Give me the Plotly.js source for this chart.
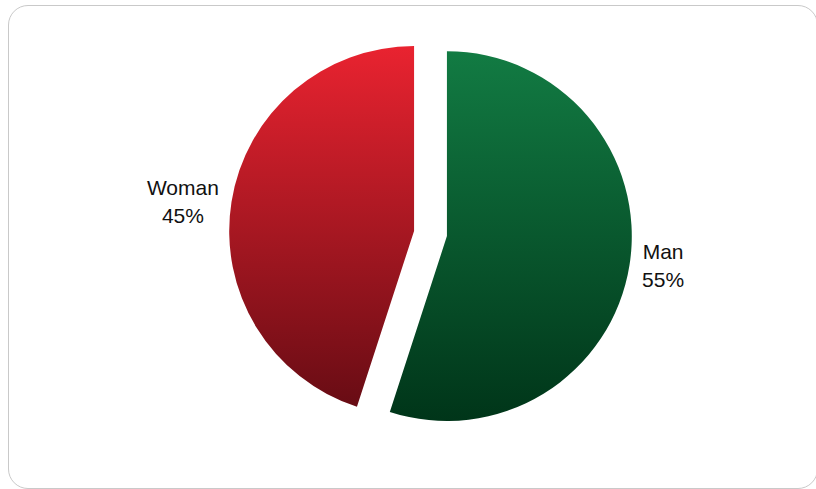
<!DOCTYPE html>
<html>
<head>
<meta charset="utf-8">
<script src="https://cdn.plot.ly/plotly-3.0.1.min.js"></script>
<style>
  html, body { margin: 0; padding: 0; background: #ffffff; }
  #wrap { position: relative; width: 816px; height: 489px; overflow: hidden; }
  #frame { position: absolute; left: 8px; top: 5px; width: 810px; height: 484px;
           border: 1px solid #c9c9c9; border-radius: 20px; box-sizing: border-box; }
  #chart { position: absolute; left: 0; top: 0; width: 816px; height: 489px; }
</style>
</head>
<body>
<div id="wrap">
  <div id="frame"></div>
  <div id="chart"></div>
</div>
<script>
const categories = ["Man", "Woman"];
const shares = [55, 45];
const topColors = ["#127b43", "#e92330"];
const bottomColors = ["#003519", "#680c14"];

const trace = {
  type: "pie",
  labels: categories,
  values: shares,
  sort: false,
  direction: "clockwise",
  rotation: 0,
  pull: [0.09, 0.09],
  marker: { colors: topColors, line: { width: 0 } },
  textposition: "outside",
  texttemplate: "%{label}<br>%{percent:.0%}",
  textfont: { family: "Liberation Sans, Arial, sans-serif", size: 21, color: "#111111" },
  hoverinfo: "none",
  showlegend: false
};

const layout = {
  width: 816,
  height: 489,
  margin: { l: 100, r: 55, t: 32, b: 54 },
  paper_bgcolor: "rgba(0,0,0,0)",
  plot_bgcolor: "rgba(0,0,0,0)",
  showlegend: false
};

Plotly.newPlot("chart", [trace], layout, { staticPlot: true, displayModeBar: false }).then(function (gd) {
  const svg = gd.querySelector("svg.main-svg");
  const ns = "http://www.w3.org/2000/svg";
  let defs = svg.querySelector("defs");
  if (!defs) { defs = document.createElementNS(ns, "defs"); svg.insertBefore(defs, svg.firstChild); }
  categories.forEach(function (c, i) {
    const g = document.createElementNS(ns, "linearGradient");
    g.setAttribute("id", "grad" + i);
    g.setAttribute("x1", "0"); g.setAttribute("y1", "0");
    g.setAttribute("x2", "0"); g.setAttribute("y2", "1");
    const s1 = document.createElementNS(ns, "stop");
    s1.setAttribute("offset", "0"); s1.setAttribute("stop-color", topColors[i]);
    const s2 = document.createElementNS(ns, "stop");
    s2.setAttribute("offset", "1"); s2.setAttribute("stop-color", bottomColors[i]);
    g.appendChild(s1); g.appendChild(s2);
    defs.appendChild(g);
  });
  const slices = gd.querySelectorAll("g.slice");
  slices.forEach(function (sl, k) {
    const d = sl.__data__;
    const idx = d && d.i !== undefined ? d.i : k;
    const p = sl.querySelector("path.surface");
    if (p) p.style.fill = "url(#grad" + idx + ")";
  });
});
</script>
</body>
</html>
